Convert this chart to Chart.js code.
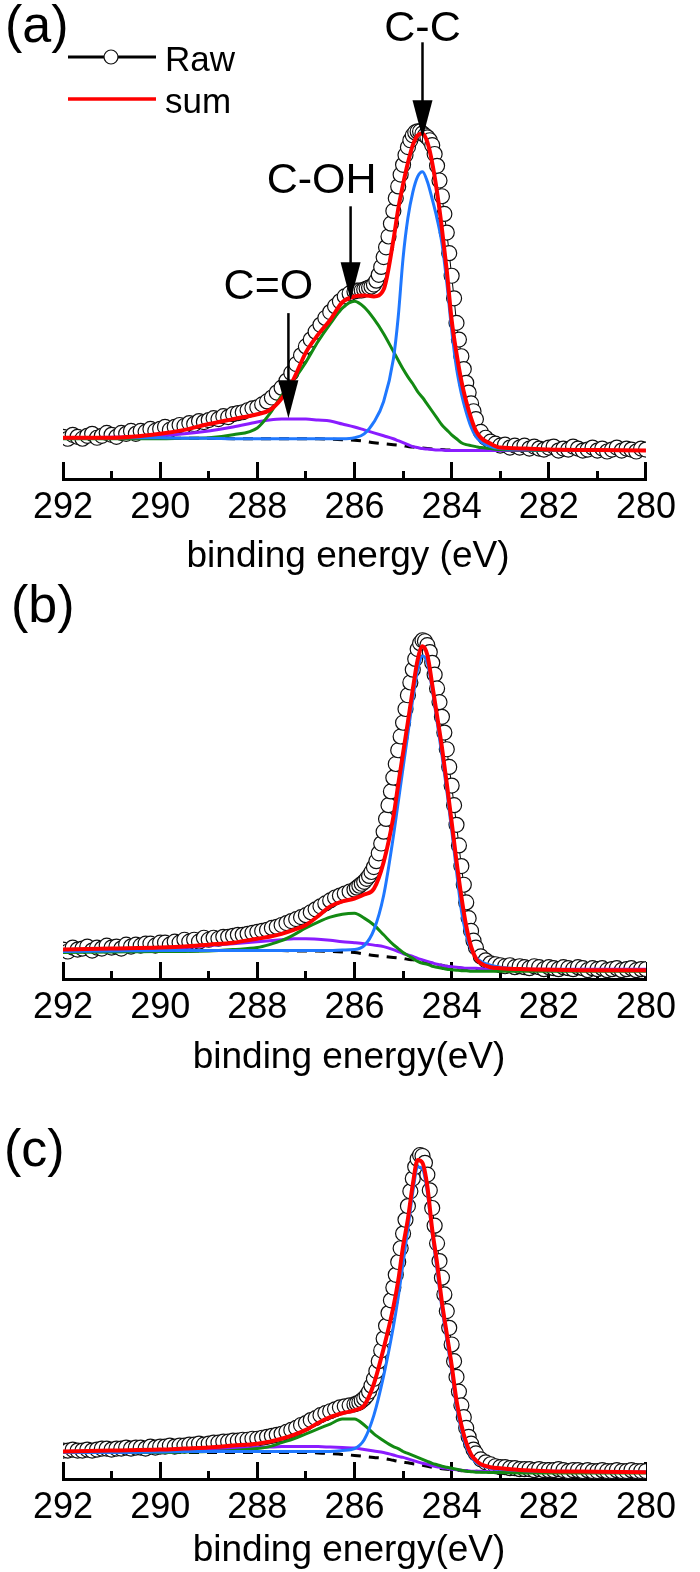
<!DOCTYPE html>
<html>
<head>
<meta charset="utf-8">
<script src="https://cdn.jsdelivr.net/npm/chart.js@4.4.1/dist/chart.umd.min.js"></script>
<style>
  html, body { margin: 0; padding: 0; background: #fff; overflow: hidden; }
  body { width: 700px; height: 1572px; position: relative; }
  canvas { position: absolute; left: 0; }
</style>
</head>
<body>
<canvas id="painelA" width="700" height="580" style="top:0px"></canvas>
<canvas id="painelB" width="700" height="580" style="top:500px"></canvas>
<canvas id="painelC" width="700" height="580" style="top:1000px"></canvas>
<script>
// energias (eV) dos pontos medidos
const energiaRaw = [
  292, 291.9, 291.8, 291.7, 291.6, 291.5, 291.4, 291.3, 291.2, 291.1,
  291, 290.9, 290.8, 290.7, 290.6, 290.5, 290.4, 290.3, 290.2, 290.1,
  290, 289.9, 289.8, 289.7, 289.6, 289.5, 289.4, 289.3, 289.2, 289.1,
  289, 288.9, 288.8, 288.7, 288.6, 288.5, 288.4, 288.3, 288.2, 288.1,
  288, 287.9, 287.8, 287.7, 287.6, 287.5, 287.4, 287.3, 287.2, 287.1,
  287, 286.9, 286.8, 286.7, 286.6, 286.5, 286.4, 286.3, 286.2, 286.1,
  286,
  285.95, 285.9, 285.85, 285.8, 285.75, 285.7, 285.65, 285.6, 285.55, 285.5,
  285.45, 285.4, 285.35, 285.3, 285.25, 285.2, 285.15, 285.1, 285.05, 285,
  284.95, 284.9, 284.85, 284.8, 284.75, 284.7, 284.65, 284.6, 284.55, 284.5,
  284.45, 284.4, 284.35, 284.3, 284.25, 284.2, 284.15, 284.1, 284.05, 284,
  283.95, 283.9, 283.85, 283.8, 283.75, 283.7, 283.65, 283.6, 283.55, 283.5,
  283.4, 283.3, 283.2, 283.1, 283, 282.9, 282.8, 282.7, 282.6, 282.5,
  282.4, 282.3, 282.2, 282.1, 282, 281.9, 281.8, 281.7, 281.6, 281.5,
  281.4, 281.3, 281.2, 281.1, 281, 280.9, 280.8, 280.7, 280.6, 280.5,
  280.4, 280.3, 280.2, 280.1, 280
];

// energias das curvas ajustadas
const energiaFit = [
  292, 291, 290, 289.5, 289, 288.5, 288, 287.75, 287.5, 287.25,
  287, 286.75, 286.5, 286.25, 286, 285.8, 285.6, 285.4, 285.2, 285.1,
  285, 284.9, 284.8, 284.7, 284.6, 284.5, 284.4, 284.3, 284.2, 284.1,
  284, 283.9, 283.8, 283.7, 283.6, 283.5, 283.4, 283.2, 283, 282.5,
  282, 281, 280
];

// ---- painel (a) ----
const rawA = [
  43, 41, 45, 43, 41, 44, 46, 42, 44, 47,
  45, 43, 47, 46, 49, 46, 49, 48, 51, 49,
  51, 53, 50, 53, 55, 54, 57, 56, 59, 58,
  60, 62, 61, 64, 63, 66, 67, 68, 70, 72,
  73, 76, 79, 83, 88, 93, 100, 108, 117, 126,
  135, 142, 150, 157, 164, 170, 176, 181, 186, 189,
  191,
  192, 192, 192, 193, 194, 195, 196, 198, 202, 208,
  216, 226, 236, 247, 260, 273, 286, 298, 310, 320,
  330, 338, 345, 350, 353, 354, 354, 352, 350, 348,
  345, 340, 331, 319, 304, 288, 270, 251, 230, 207,
  184, 159, 142, 125, 112, 98, 88, 77, 69, 61,
  48, 42, 38, 36, 34, 35, 32, 34, 32, 34,
  31, 33, 31, 30, 32, 33, 29, 31, 30, 33,
  31, 29, 30, 32, 29, 31, 28, 30, 32, 29,
  31, 30, 28, 31, 30
];
const somaA = [
  42, 42, 46, 50, 56, 61, 66, 70, 82, 102,
  129, 147, 162, 180, 186, 187, 186, 193, 243, 275,
  300, 322, 340, 350, 352, 343, 322, 292, 255, 212,
  162, 128, 100, 79, 62, 49, 42, 36, 32, 31,
  30, 29.5, 29
];
const ccA = [
  42, 42, 42, 41.5, 41.5, 41, 41, 41, 41, 41,
  41, 41, 41, 41, 42, 46, 58, 79, 122, 165,
  225, 266, 292, 308, 313, 303, 285, 265, 240, 200,
  152, 113, 87, 68, 53, 43, 38, 33, 31, 30,
  29.5, 29, 29
];
const cohA = [
  41, 41, 41, 41.5, 42, 45, 52, 66, 85, 101,
  119, 140, 158, 174, 181, 175, 163, 148, 130, 121,
  112, 104, 97, 89, 83, 76, 69, 62, 55, 50,
  45, 41, 37, 35, 34, 33, 32, 31, 30, 29.5,
  29, 29, 29
];
const coA = [
  42, 42.5, 44, 46, 49, 53, 58, 60, 61, 61,
  61, 60, 59, 56, 53, 50, 47, 44, 41, 39,
  37, 35, 33, 32, 31, 30.5, 30, 29.5, 29.5, 29,
  29, 29, 29, 29, 29, 29, 29, 29, 29, 29,
  29, 29, 29
];
const fundoA = [
  42, 42, 41.5, 41.5, 41.5, 41, 41, 41, 41, 41,
  41, 41, 40.5, 40, 39.5, 38.5, 37, 36, 35, 34.5,
  34, 33, 32.5, 32, 31.5, 31, 30.5, 30, 30, 29.5,
  29.5, 29, 29, 29, 29, 29, 29, 29, 29, 29,
  29, 29, 29
];

// ---- painel (b) ----
const rawB = [
  30, 28, 32, 30, 31, 33, 29, 32, 31, 34,
  32, 33, 31, 35, 33, 35, 34, 36, 36, 34,
  37, 37, 35, 38, 37, 40, 38, 40, 38, 42,
  40, 42, 41, 43, 43, 44, 45, 45, 46, 47,
  48, 49, 50, 52, 53, 55, 57, 59, 61, 63,
  65, 68, 71, 74, 77, 80, 83, 85, 87, 89,
  91,
  93, 95, 97, 99, 102, 105, 109, 114, 120, 128,
  138, 150, 163, 177, 191, 205, 219, 233, 247, 261,
  275, 289, 302, 315, 326, 336, 342, 345, 344, 340,
  333, 322, 310, 296, 282, 267, 251, 234, 216, 197,
  177, 157, 136, 115, 96, 78, 62, 49, 39, 32,
  23, 19, 16, 15, 14, 13, 14, 12, 13, 12,
  11, 13, 12, 10, 12, 11, 10, 12, 11, 10,
  12, 11, 9, 11, 10, 11, 9, 10, 11, 9,
  10, 11, 9, 10, 10
];
const somaB = [
  30, 31, 32, 33, 35, 37, 41, 43, 46, 50,
  55, 64, 74, 79, 82, 86, 92, 119, 165, 198,
  230, 262, 295, 325, 339, 330, 300, 268, 236, 199,
  160, 120, 84, 54, 33, 21, 16, 12, 11, 10,
  9.5, 9, 9
];
const ccB = [
  28, 28.5, 29, 29, 29, 29, 29, 29, 29, 29,
  29, 29, 29, 29.5, 30, 34, 50, 85, 145, 180,
  215, 250, 285, 315, 329, 322, 295, 262, 228, 192,
  152, 110, 70, 45, 30, 22, 18, 14, 12, 10,
  9.5, 9, 9
];
const cohB = [
  27, 27.5, 28, 28, 28.5, 30, 32, 35, 39, 45,
  52, 58, 63, 66, 67, 62, 55, 45, 35, 31,
  27, 24, 21, 18, 16, 15, 13, 12, 11, 10,
  9.5, 9, 8.5, 8.5, 8, 8, 8, 8, 8, 8,
  8, 8, 8
];
const coB = [
  29, 29.5, 31, 32, 34, 36, 38, 39, 40, 41,
  41, 40.5, 39.5, 38, 37, 36, 34.5, 33, 30, 28,
  26, 24.5, 23, 21, 19.5, 18, 16.5, 15, 14, 13,
  12.5, 12, 11.5, 11, 11, 11, 10.5, 10, 10, 10,
  10, 10, 10
];
const fundoB = [
  28, 28, 28.5, 28.5, 29, 29, 29, 29, 29, 28.5,
  28.5, 28.5, 28, 27.5, 27, 25.5, 24, 23, 22, 21.5,
  21, 20, 19.5, 19, 18, 17, 16, 15, 14, 13,
  12.5, 12, 11, 10.5, 10.5, 10, 10, 9.5, 9.5, 9.5,
  9, 9, 9
];

// ---- painel (c) ----
const rawC = [
  29, 29, 30, 29, 29, 30, 29, 30, 31, 31,
  30, 31, 31, 32, 31, 32, 32, 31, 33, 32,
  33, 33, 34, 33, 34, 34, 35, 35, 36, 35,
  36, 37, 37, 38, 38, 39, 39, 40, 40, 41,
  41, 42, 43, 44, 45, 46, 48, 50, 52, 55,
  57, 60, 62, 65, 67, 69, 71, 73, 74, 75,
  76,
  77, 78, 80, 82, 85, 89, 95, 102, 110, 120,
  131, 143, 156, 169, 182, 195, 208, 221, 235, 250,
  264, 278, 293, 306, 318, 326, 330, 329, 322, 310,
  294, 276, 258, 240, 222, 205, 188, 171, 154, 137,
  120, 104, 89, 75, 63, 52, 43, 36, 30, 26,
  20, 17, 15, 13, 12, 12, 11, 11, 10, 10,
  10, 9, 10, 9, 9, 9, 10, 9, 8, 9,
  9, 8, 9, 8, 8, 9, 8, 8, 9, 8,
  8, 9, 8, 8, 8
];
const somaC = [
  28, 29, 30, 31, 32, 34, 36, 38, 41, 45,
  50, 57, 63, 67, 70, 75, 97, 133, 175, 202,
  237, 265, 300, 325, 322, 298, 254, 220, 180, 148,
  116, 80, 55, 37, 25, 19, 15, 12, 11, 9,
  8, 7.5, 7
];
const ccC = [
  27, 27, 27.5, 28, 28, 28, 28, 28, 28, 28,
  28, 28, 28, 29, 31, 40, 65, 105, 155, 185,
  220, 255, 292, 318, 316, 292, 250, 213, 174, 142,
  110, 74, 50, 33, 23, 17, 14, 11, 10, 8.5,
  8, 7.5, 7
];
const cohC = [
  27, 27, 27, 27.5, 28, 29, 31, 33, 37, 41,
  46, 51, 56, 61, 61, 55, 46, 39, 33, 31,
  28, 26, 24, 22, 20, 18, 16, 14.5, 13, 12,
  11, 10, 9, 8, 7.5, 7, 7, 6.5, 6.5, 6,
  6, 6, 6
];
const coC = [
  28, 28.5, 29, 29.5, 30, 31, 32, 32.5, 33, 33,
  33, 33, 32.5, 32, 31.5, 30, 28.5, 27, 24.5, 23,
  22, 20.5, 19, 17.5, 16, 15, 13.5, 12.5, 11.5, 11,
  10, 9.5, 9, 8.5, 8, 8, 8, 7.5, 7.5, 7,
  7, 7, 7
];
const fundoC = [
  27, 27, 27, 27, 27, 27, 27, 27, 27, 27,
  27, 26.5, 26, 25, 24, 23, 22, 21, 19, 18,
  17, 16.5, 15.5, 15, 14, 13, 12, 11, 10.5, 10,
  9.5, 9, 8.5, 8.5, 8, 8, 7.5, 7.5, 7, 7,
  7, 7, 7
];

// picos marcados no painel (a)
const picosRotulos = ['C-C', 'C-OH', 'C=O'];
const picosEnergia = [284.6, 286.08, 287.36];
const picosTopo = [347, 182, 62];

const fonte = '"Liberation Sans", Arial, sans-serif';

function pares(xs, ys) {
  if (xs.length !== ys.length) console.warn('tamanho diferente', xs.length, ys.length);
  return xs.map((x, i) => ({ x: x, y: ys[i] }));
}

// desenha letra do painel, titulo do eixo, setas e legenda
const decoracao = {
  id: 'deco',
  afterDraw(chart, args, o) {
    const ctx = chart.ctx;
    const sx = chart.scales.x;
    const sy = chart.scales.y;
    ctx.save();
    ctx.fillStyle = '#000';
    ctx.textBaseline = 'alphabetic';

    ctx.font = '52px ' + fonte;
    ctx.textAlign = 'left';
    ctx.fillText(o.letra, o.letraX, o.letraY);

    ctx.font = '37px ' + fonte;
    ctx.textAlign = 'center';
    ctx.fillText(o.titulo, o.tituloX, o.tituloY);

    if (o.setas) {
      picosRotulos.forEach((txt, i) => {
        const px = sx.getPixelForValue(picosEnergia[i]);
        const ponta = sy.getPixelForValue(picosTopo[i]);
        const inicio = ponta - o.setas.comp[i];
        ctx.strokeStyle = '#000';
        ctx.lineWidth = 2.5;
        ctx.beginPath();
        ctx.moveTo(px, inicio);
        ctx.lineTo(px, ponta - 30);
        ctx.stroke();
        ctx.beginPath();
        ctx.moveTo(px - 10, ponta - 38);
        ctx.lineTo(px + 10, ponta - 38);
        ctx.lineTo(px, ponta);
        ctx.closePath();
        ctx.fill();
        ctx.font = '43px ' + fonte;
        ctx.textAlign = 'center';
        ctx.fillText(txt, px + o.setas.dx[i], inicio - o.setas.folga[i]);
      });
    }

    if (o.legenda) {
      const dsRaw = chart.data.datasets.find(d => d.label === 'Raw');
      const dsSum = chart.data.datasets.find(d => d.label === 'sum');
      ctx.lineWidth = 3;
      ctx.strokeStyle = dsRaw.borderColor;
      ctx.beginPath();
      ctx.moveTo(68, 57);
      ctx.lineTo(156, 57);
      ctx.stroke();
      ctx.lineWidth = 1.2;
      ctx.fillStyle = dsRaw.pointBackgroundColor;
      ctx.strokeStyle = dsRaw.pointBorderColor;
      ctx.beginPath();
      ctx.arc(111, 57, 7, 0, Math.PI * 2);
      ctx.fill();
      ctx.stroke();
      ctx.lineWidth = 3.5;
      ctx.strokeStyle = dsSum.borderColor;
      ctx.beginPath();
      ctx.moveTo(68, 99);
      ctx.lineTo(156, 99);
      ctx.stroke();
      ctx.fillStyle = '#000';
      ctx.font = '35px ' + fonte;
      ctx.textAlign = 'left';
      ctx.fillText('Raw', 165, 71);
      ctx.fillText('sum', 165, 113);
    }
    ctx.restore();
  }
};

function linhaFit(label, valores, cor, ordem, extra) {
  return Object.assign({
    label: label,
    data: pares(energiaFit, valores),
    borderColor: cor,
    borderWidth: 3,
    pointRadius: 0,
    fill: false,
    cubicInterpolationMode: 'monotone',
    order: ordem
  }, extra || {});
}

function criaGrafico(id, raw, soma, cc, coh, co, fundo, deco) {
  return new Chart(document.getElementById(id), {
    type: 'line',
    data: {
      datasets: [
        linhaFit('sum', soma, '#ff0000', 0, { borderWidth: 4 }),
        linhaFit('C-C', cc, '#1f78ff', 1),
        linhaFit('C-OH', coh, '#138a13', 2),
        linhaFit('C=O', co, '#8a1cff', 3),
        linhaFit('fundo', fundo, '#000000', 4, { borderDash: [10, 8] }),
        {
          label: 'Raw',
          data: pares(energiaRaw, raw),
          borderColor: '#000000',
          borderWidth: 1,
          pointRadius: 7.5,
          pointBorderWidth: 1.2,
          pointBorderColor: '#111111',
          pointBackgroundColor: '#ffffff',
          order: 5
        }
      ]
    },
    options: {
      responsive: false,
      animation: false,
      devicePixelRatio: 1,
      layout: { padding: { left: 63, right: 34, top: 0, bottom: 0 } },
      plugins: {
        legend: { display: false },
        tooltip: { enabled: false },
        deco: deco
      },
      scales: {
        x: {
          type: 'linear',
          min: 280,
          max: 292,
          reverse: true,
          afterFit: (s) => { s.height = 101; },
          border: { display: true, color: '#000', width: 3 },
          grid: {
            drawOnChartArea: false,
            drawTicks: true,
            tickLength: -17,
            tickWidth: 3,
            tickColor: '#000',
            tickBorderDash: (c) => (c.tick && c.tick.value % 2 !== 0) ? [10, 100] : []
          },
          ticks: {
            stepSize: 1,
            autoSkip: false,
            maxRotation: 0,
            color: '#000',
            padding: 24,
            font: { family: fonte, size: 36 },
            callback: (v) => (v % 2 === 0 ? String(v) : '')
          }
        },
        y: { display: false, min: 0, max: 479 }
      }
    },
    plugins: [decoracao]
  });
}

criaGrafico('painelA', rawA, somaA, ccA, cohA, coA, fundoA, {
  letra: '(a)', letraX: 5, letraY: 42,
  titulo: 'binding energy (eV)', tituloX: 348, tituloY: 567,
  setas: { comp: [96, 94, 105], folga: [1, 13, 14], dx: [0, -29, -20] },
  legenda: true
});

criaGrafico('painelB', rawB, somaB, ccB, cohB, coB, fundoB, {
  letra: '(b)', letraX: 11, letraY: 122,
  titulo: 'binding energy(eV)', tituloX: 349, tituloY: 568
});

criaGrafico('painelC', rawC, somaC, ccC, cohC, coC, fundoC, {
  letra: '(c)', letraX: 4, letraY: 166,
  titulo: 'binding energy(eV)', tituloX: 349, tituloY: 561
});
</script>
</body>
</html>
